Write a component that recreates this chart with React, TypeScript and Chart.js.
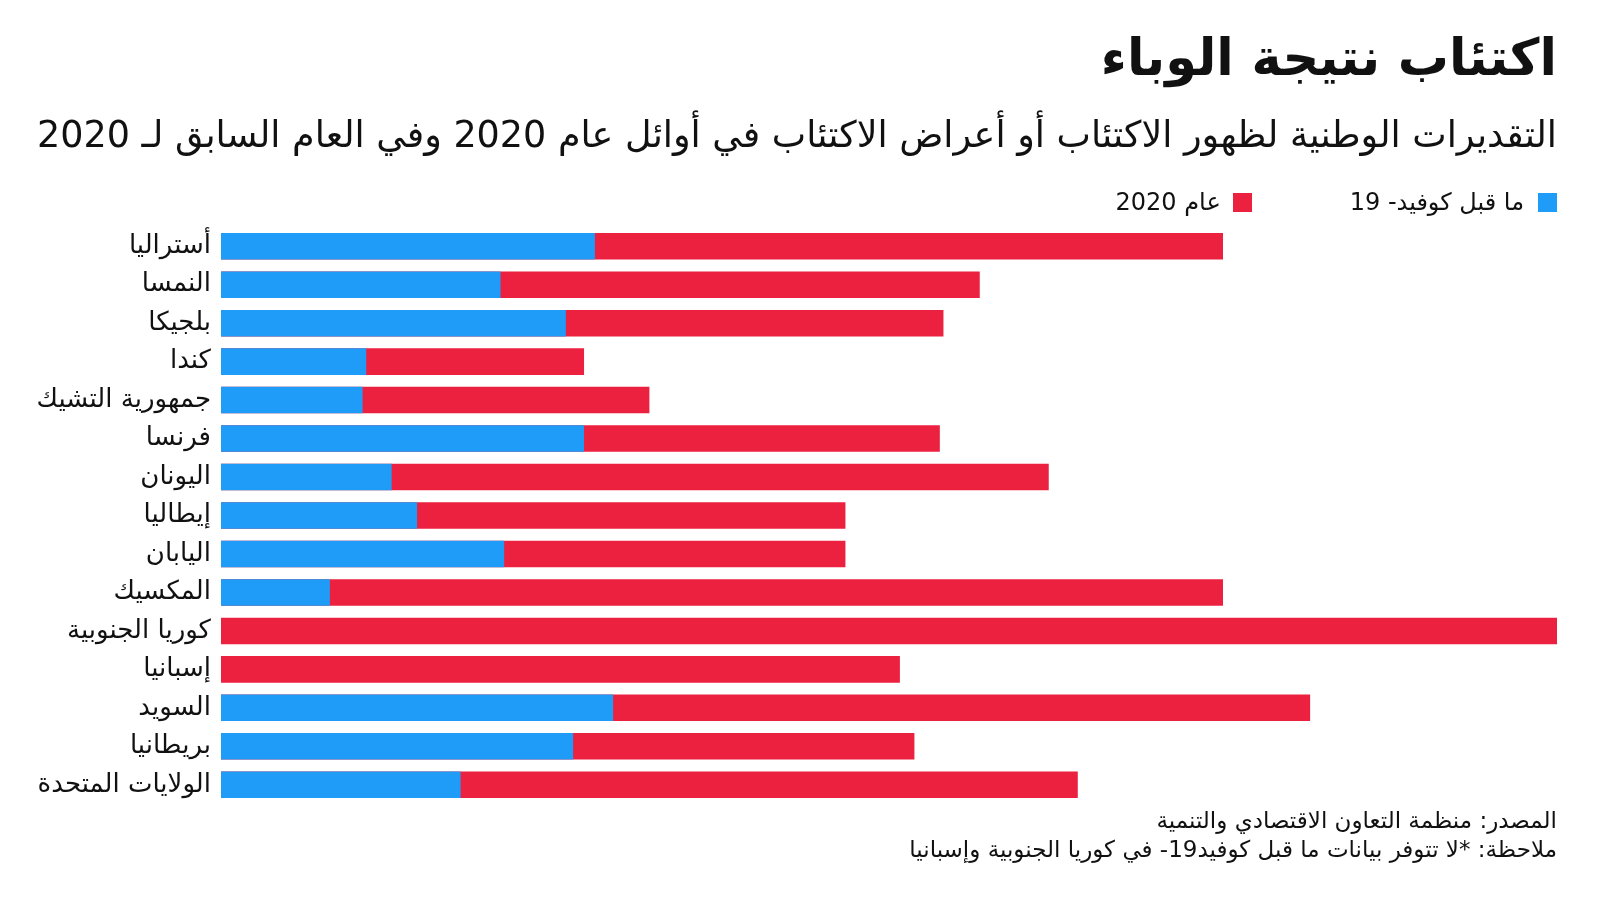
import React, { useEffect, useRef } from "react";
import { Chart, registerables } from "chart.js";

Chart.register(...registerables);

const countries = [
  "أستراليا",
  "النمسا",
  "بلجيكا",
  "كندا",
  "جمهورية التشيك",
  "فرنسا",
  "اليونان",
  "إيطاليا",
  "اليابان",
  "المكسيك",
  "كوريا الجنوبية",
  "إسبانيا",
  "السويد",
  "بريطانيا",
  "الولايات المتحدة",
];

const preCovid = [10.3, 7.7, 9.5, 4.0, 3.9, 10.0, 4.7, 5.4, 7.8, 3.0, null, null, 10.8, 9.7, 6.6];
const year2020 = [27.6, 20.9, 19.9, 10.0, 11.8, 19.8, 22.8, 17.2, 17.2, 27.6, 36.8, 18.7, 30.0, 19.1, 23.6];

const seriesLabels = ["ما قبل كوفيد- 19", "عام 2020"];
const BLUE = "#1E9CF7";
const RED = "#EC2140";
const FONT = "'DejaVu Sans', sans-serif";

export default function App() {
  const ref = useRef<HTMLCanvasElement | null>(null);

  useEffect(() => {
    document.body.style.margin = "0";
    const ctx = ref.current!;
    const chart = new Chart(ctx, {
      type: "bar",
      data: {
        labels: countries,
        datasets: [
          {
            label: seriesLabels[0],
            data: preCovid,
            backgroundColor: BLUE,
            grouped: false,
            order: 0,
            barPercentage: 0.69,
            categoryPercentage: 1,
          } as any,
          {
            label: seriesLabels[1],
            data: year2020,
            backgroundColor: RED,
            grouped: false,
            order: 1,
            barPercentage: 0.69,
            categoryPercentage: 1,
          } as any,
        ],
      },
      options: {
        indexAxis: "y",
        animation: false,
        responsive: false,
        maintainAspectRatio: false,
        layout: { padding: { top: 227, bottom: 96, right: 43, left: 0 } },
        plugins: {
          legend: { display: false },
          tooltip: { enabled: false },
        },
        scales: {
          x: {
            display: false,
            min: 0,
            max: 36.8,
            grid: { display: false },
          },
          y: {
            grid: { display: false },
            border: { display: false },
            ticks: {
              color: "#111",
              padding: 2,
              font: { family: FONT, size: 26 },
            },
            afterFit: (scale: any) => {
              scale.width = 221;
            },
          },
        },
      },
    });
    return () => chart.destroy();
  }, []);

  const rtl: React.CSSProperties = { direction: "rtl", position: "absolute", right: 43, fontFamily: FONT, color: "#111", whiteSpace: "nowrap", margin: 0 };

  return (
    <div style={{ position: "fixed", left: 0, top: 0, width: 1600, height: 900, background: "#fff", overflow: "hidden" }}>
      <canvas ref={ref} width={1600} height={900} style={{ position: "absolute", left: 0, top: 0, width: 1600, height: 900 }} />
      <div style={{ ...rtl, top: 28, fontSize: 51, fontWeight: 900, lineHeight: "60px" }}>اكتئاب نتيجة الوباء</div>
      <div style={{ ...rtl, top: 112, fontSize: 36.5, lineHeight: "46px" }}>
        التقديرات الوطنية لظهور الاكتئاب أو أعراض الاكتئاب في أوائل عام 2020 وفي العام السابق لـ 2020
      </div>
      <div style={{ ...rtl, top: 187, fontSize: 24, lineHeight: "30px", display: "flex", alignItems: "center", gap: 0 }}>
        <span style={{ display: "inline-block", width: 19, height: 19, background: BLUE, marginLeft: 14 }} />
        <span>{seriesLabels[0]}</span>
        <span style={{ display: "inline-block", width: 19, height: 19, background: RED, marginLeft: 12, marginRight: 98 }} />
        <span>{seriesLabels[1]}</span>
      </div>
      <div style={{ ...rtl, top: 806, fontSize: 23, lineHeight: "29px" }}>المصدر: منظمة التعاون الاقتصادي والتنمية</div>
      <div style={{ ...rtl, top: 835, fontSize: 23, lineHeight: "29px" }}>ملاحظة: *لا تتوفر بيانات ما قبل كوفيد19- في كوريا الجنوبية وإسبانيا</div>
    </div>
  );
}
